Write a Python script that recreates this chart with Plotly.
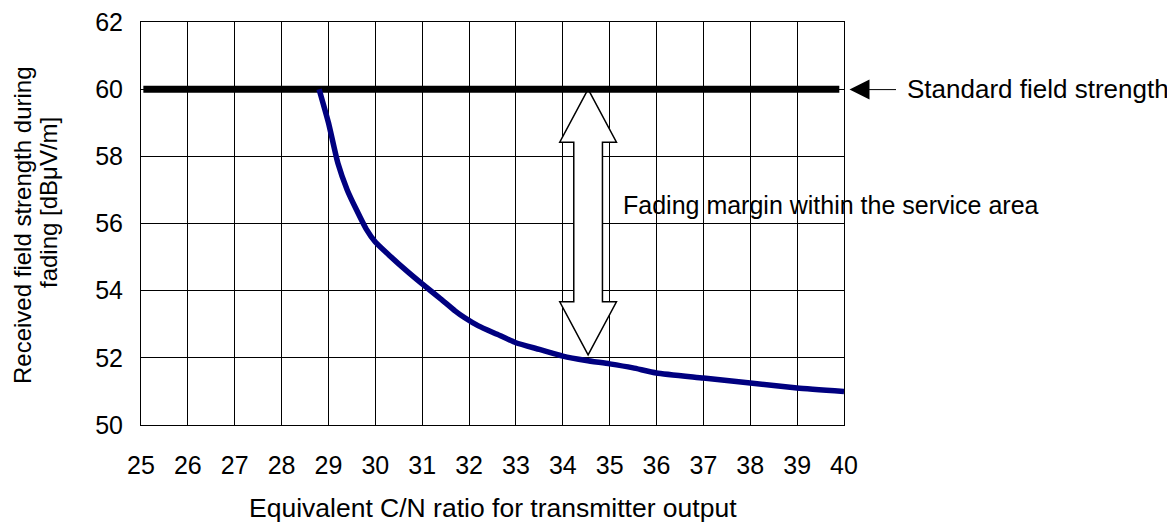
import plotly.graph_objects as go

# ---- data ----
cn_ratio = [28.8, 29.0, 29.2, 29.4, 29.6, 29.8, 30.0, 30.3, 30.7, 31.0, 31.4, 31.7,
            31.9, 32.2, 32.6, 33.0, 33.5, 34.0, 34.5, 35.0, 35.5, 36.0, 37.0, 38.0,
            39.0, 40.0]
field_strength = [60.0, 59.0, 57.8, 57.0, 56.4, 55.85, 55.45, 55.05, 54.55, 54.2, 53.75,
                  53.4, 53.2, 52.95, 52.7, 52.45, 52.25, 52.05, 51.92, 51.82, 51.7, 51.55,
                  51.4, 51.25, 51.1, 51.0]
standard_x = [25.05, 39.9]
standard_y = [60, 60]
x_ticks = list(range(25, 41))
y_ticks = list(range(50, 63, 2))

# fading-margin double arrow (data units)
arrow_cx = 34.54
arrow_top = 60.0
arrow_bot = 52.09

FONT = "Liberation Sans, Arial, sans-serif"
FS = 25

# page offset (default body margin of the html page)
OFF = 8
W, H = 1175 - OFF, 523 - OFF
# desired plot area in page pixels
PL, PR, PT, PB = 141, 844, 22, 425
L, T = PL - OFF, PT - OFF
R = W - (PR - OFF)
B = H - (PB - OFF)
PW, PH = PR - PL, PB - PT


def px2paper_x(px):
    return (px - PL) / PW


def py2paper_y(py):
    return (PB - py) / PH


fig = go.Figure()
fig.add_trace(go.Scatter(x=standard_x, y=standard_y, mode="lines",
                         line=dict(color="black", width=7), hoverinfo="skip"))
fig.add_trace(go.Scatter(x=cn_ratio, y=field_strength, mode="lines",
                         line=dict(color="#000080", width=5.5, shape="spline", smoothing=0.5),
                         hoverinfo="skip"))

# hollow double arrow
hw, sw, hl = 0.605, 0.306, 1.58
pts = [(arrow_cx, arrow_top), (arrow_cx + hw, arrow_top - hl), (arrow_cx + sw, arrow_top - hl),
       (arrow_cx + sw, arrow_bot + hl), (arrow_cx + hw, arrow_bot + hl), (arrow_cx, arrow_bot),
       (arrow_cx - hw, arrow_bot + hl), (arrow_cx - sw, arrow_bot + hl),
       (arrow_cx - sw, arrow_top - hl), (arrow_cx - hw, arrow_top - hl)]
path = "M " + " L ".join(f"{px},{py}" for px, py in pts) + " Z"
fig.add_shape(type="path", path=path, xref="x", yref="y", fillcolor="white",
              line=dict(color="black", width=1.5), layer="between")

# Standard field strength arrow
fig.add_annotation(x=px2paper_x(849.5), y=py2paper_y(89.6), xref="paper", yref="paper",
                   ax=48, ay=0, text="", showarrow=True, arrowhead=2,
                   arrowsize=4, arrowwidth=1, arrowcolor="black")
fig.add_annotation(x=px2paper_x(905), y=60, xref="paper", yref="y",
                   text="Standard field strength", showarrow=False,
                   xanchor="left", yanchor="middle", font=dict(family=FONT, size=26, color="black"))
fig.add_annotation(x=px2paper_x(621), y=py2paper_y(205), xref="paper", yref="paper",
                   text="Fading margin within the service area", showarrow=False,
                   xanchor="left", yanchor="middle", font=dict(family=FONT, size=FS, color="black"))

# axis titles
fig.add_annotation(x=px2paper_x(492.5), y=py2paper_y(508), xref="paper", yref="paper",
                   text="Equivalent C/N ratio for transmitter output", showarrow=False,
                   xanchor="center", yanchor="middle", font=dict(family=FONT, size=26.5, color="black"))
fig.add_annotation(x=px2paper_x(22), y=py2paper_y(225), xref="paper", yref="paper",
                   text="Received field strength during", showarrow=False, textangle=-90,
                   xanchor="center", yanchor="middle", font=dict(family=FONT, size=24, color="black"))
fig.add_annotation(x=px2paper_x(48), y=py2paper_y(203), xref="paper", yref="paper",
                   text="fading [dBμV/m]", showarrow=False, textangle=-90,
                   xanchor="center", yanchor="middle", font=dict(family=FONT, size=24, color="black"))

fig.update_layout(
    width=W, height=H,
    margin=dict(l=L, r=R, t=T, b=B, autoexpand=False),
    paper_bgcolor="white", plot_bgcolor="white",
    showlegend=False,
    font=dict(family=FONT, size=FS, color="black"),
    xaxis=dict(range=[25, 40], tickvals=x_ticks, ticktext=[str(v) for v in x_ticks],
               showgrid=True, gridcolor="black", gridwidth=1,
               showline=True, linecolor="black", linewidth=1, mirror=True,
               ticks="inside", ticklen=7, tickcolor="black",
               ticklabelstandoff=18, zeroline=False, ticklabeloverflow="allow",
               tickfont=dict(family=FONT, size=FS, color="black")),
    yaxis=dict(range=[50, 62], tickvals=y_ticks, ticktext=[str(v) for v in y_ticks],
               showgrid=True, gridcolor="black", gridwidth=1,
               showline=True, linecolor="black", linewidth=1, mirror=True,
               ticks="inside", ticklen=7, tickcolor="black",
               ticklabelstandoff=12, zeroline=False, ticklabeloverflow="allow",
               tickfont=dict(family=FONT, size=FS, color="black")),
)

fig.write_html("out.html", config={"displayModeBar": False})
